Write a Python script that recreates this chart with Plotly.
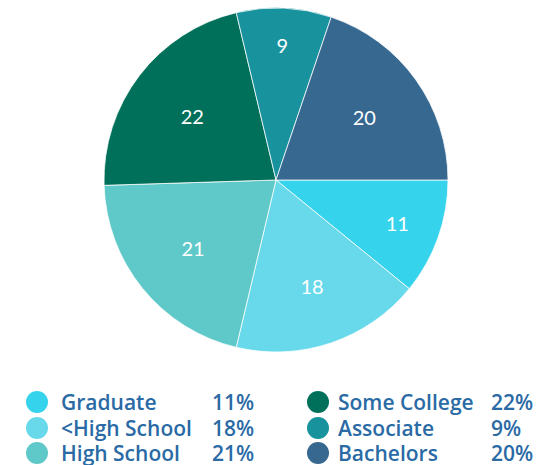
import plotly.graph_objects as go

labels = ["Graduate", "<High School", "High School", "Some College", "Associate", "Bachelors"]
values = [11, 18, 21, 22, 9, 20]
colors = ["#36d3ec", "#68d9ea", "#5fc8c8", "#01705a", "#18939e", "#366890"]

W, H = 554, 465

fig = go.Figure()
fig.add_trace(go.Pie(
    labels=labels, values=values, sort=False, direction="clockwise", rotation=90,
    marker=dict(colors=colors, line=dict(color="rgba(255,255,255,0.75)", width=1)),
    textinfo="value", textposition="inside", insidetextorientation="horizontal",
    textfont=dict(family="Lato", size=20, color="white"),
    domain=dict(x=[104 / W, 448 / W], y=[1 - 352 / H, 1 - 8 / H]),
    showlegend=False, hoverinfo="label+value",
))

legend_color = "#2a6aa5"
fnt = dict(family="Open Sans", size=21, color=legend_color, weight=600)
ys = [402, 428, 453]
cols = [(37, 59, 210), (318, 336, 489)]
for i, (lab, val, col) in enumerate(zip(labels, values, colors)):
    c = cols[i // 3]
    y = 1 - ys[i % 3] / H
    fig.add_shape(type="circle", xref="paper", yref="paper", xsizemode="pixel", ysizemode="pixel",
                  xanchor=c[0] / W, yanchor=y, x0=-11, x1=11, y0=-11, y1=11,
                  fillcolor=col, line=dict(width=0))
    fig.add_annotation(x=c[1] / W, y=y, xref="paper", yref="paper", text=lab, showarrow=False,
                       xanchor="left", yanchor="middle", font=fnt)
    fig.add_annotation(x=c[2] / W, y=y, xref="paper", yref="paper", text=f"{val}%", showarrow=False,
                       xanchor="left", yanchor="middle", font=fnt)

fig.update_layout(width=W, height=H, margin=dict(l=0, r=0, t=0, b=0),
                  paper_bgcolor="white", plot_bgcolor="white")
fig.write_html("out.html", config={"displayModeBar": False},
               post_script="document.body.style.margin='0';")
